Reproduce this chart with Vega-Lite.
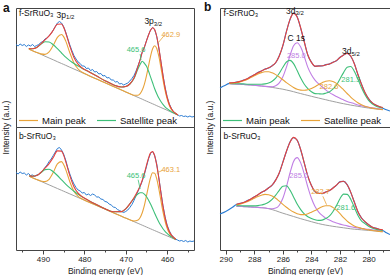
{
"$schema":"https://vega.github.io/schema/vega-lite/v6.json",
"padding":{"left":0,"top":0,"right":0,"bottom":0},
"config":{"font":"Liberation Sans","view":{"stroke":"#444","strokeWidth":1},
"axis":{"labelFontSize":8,"titleFontSize":8.5,"titleFontWeight":"normal","labelColor":"#222","titleColor":"#222","tickColor":"#444","grid":false,"domain":false},
"axisY":{"ticks":false,"labels":false,"titleY":119,"titlePadding":6},
"axisX":{"labelPadding":1,"titlePadding":3}},
"datasets":{
"aTop":[
{"e":493.4,"bg":78.0,"Satellite peak":78.5,"Main peak":78.0,"fit":78.5},
{"e":492.5,"bg":76.3,"Satellite peak":78.3,"Main peak":76.3,"fit":78.3},
{"e":491.5,"bg":74.5,"Satellite peak":79.5,"Main peak":74.5,"fit":79.5},
{"e":490.5,"bg":72.7,"Satellite peak":82.7,"Main peak":73.1,"fit":83.1},
{"e":489.5,"bg":70.8,"Satellite peak":85.3,"Main peak":72.6,"fit":87.1},
{"e":488.5,"bg":69.0,"Satellite peak":85.0,"Main peak":75.1,"fit":91.1},
{"e":487.5,"bg":67.2,"Satellite peak":82.2,"Main peak":81.7,"fit":96.7},
{"e":486.5,"bg":65.3,"Satellite peak":78.3,"Main peak":89.7,"fit":102.7},
{"e":485.5,"bg":63.5,"Satellite peak":74.0,"Main peak":92.5,"fit":103.0},
{"e":485,"bg":62.6,"Satellite peak":71.9,"Main peak":90.4,"fit":99.7},
{"e":484.5,"bg":61.7,"Satellite peak":69.9,"Main peak":86.1,"fit":94.3},
{"e":483.5,"bg":59.8,"Satellite peak":66.4,"Main peak":74.3,"fit":80.9},
{"e":482.5,"bg":58.0,"Satellite peak":63.5,"Main peak":64.1,"fit":69.6},
{"e":481.5,"bg":56.2,"Satellite peak":61.0,"Main peak":58.0,"fit":62.8},
{"e":480.5,"bg":54.3,"Satellite peak":58.6,"Main peak":54.7,"fit":59.0},
{"e":479,"bg":51.6,"Satellite peak":55.4,"Main peak":51.6,"fit":55.4},
{"e":477,"bg":47.9,"Satellite peak":50.9,"Main peak":47.9,"fit":50.9},
{"e":475,"bg":44.3,"Satellite peak":46.3,"Main peak":44.3,"fit":46.3},
{"e":473,"bg":40.6,"Satellite peak":42.3,"Main peak":40.6,"fit":42.3},
{"e":471,"bg":36.9,"Satellite peak":40.0,"Main peak":36.9,"fit":40.0},
{"e":470,"bg":35.1,"Satellite peak":40.5,"Main peak":35.1,"fit":40.5},
{"e":469,"bg":33.3,"Satellite peak":43.0,"Main peak":33.3,"fit":43.0},
{"e":468,"bg":31.4,"Satellite peak":48.5,"Main peak":31.8,"fit":48.9},
{"e":467,"bg":29.6,"Satellite peak":58.6,"Main peak":31.8,"fit":60.8},
{"e":466.5,"bg":28.7,"Satellite peak":62.7,"Main peak":33.4,"fit":67.4},
{"e":466,"bg":27.8,"Satellite peak":65.8,"Main peak":36.9,"fit":74.9},
{"e":465.5,"bg":26.8,"Satellite peak":63.8,"Main peak":42.6,"fit":79.6},
{"e":465,"bg":25.9,"Satellite peak":60.9,"Main peak":50.9,"fit":85.9},
{"e":464.5,"bg":25.0,"Satellite peak":56.0,"Main peak":60.8,"fit":91.8},
{"e":464,"bg":24.1,"Satellite peak":50.1,"Main peak":70.7,"fit":96.7},
{"e":463.5,"bg":23.2,"Satellite peak":44.2,"Main peak":78.2,"fit":99.2},
{"e":463,"bg":22.3,"Satellite peak":38.3,"Main peak":81.2,"fit":97.2},
{"e":462.5,"bg":21.3,"Satellite peak":33.3,"Main peak":78.5,"fit":90.5},
{"e":462,"bg":20.4,"Satellite peak":28.9,"Main peak":70.8,"fit":79.3},
{"e":461.5,"bg":19.5,"Satellite peak":25.5,"Main peak":59.7,"fit":65.7},
{"e":461,"bg":18.6,"Satellite peak":22.6,"Main peak":47.7,"fit":51.7},
{"e":460.5,"bg":17.7,"Satellite peak":20.2,"Main peak":36.9,"fit":39.4},
{"e":460,"bg":16.8,"Satellite peak":18.3,"Main peak":28.3,"fit":29.8},
{"e":459.5,"bg":15.8,"Satellite peak":16.8,"Main peak":22.0,"fit":23.0},
{"e":459,"bg":14.9,"Satellite peak":15.4,"Main peak":17.9,"fit":18.4},
{"e":458.5,"bg":14.0,"Satellite peak":14.2,"Main peak":15.3,"fit":15.5},
{"e":458,"bg":13.1,"Satellite peak":13.2,"Main peak":13.6,"fit":13.7},
{"e":457.4,"bg":12.0,"Satellite peak":12.0,"Main peak":12.1,"fit":12.1}],
"aBot":[
{"e":493.3,"bg":73.7,"Satellite peak":74.2,"Main peak":73.7,"fit":74.2},
{"e":492.5,"bg":72.2,"Satellite peak":73.7,"Main peak":72.2,"fit":73.7},
{"e":491.5,"bg":70.4,"Satellite peak":74.4,"Main peak":70.4,"fit":74.4},
{"e":490.5,"bg":68.7,"Satellite peak":77.2,"Main peak":69.0,"fit":77.5},
{"e":489.5,"bg":66.9,"Satellite peak":80.4,"Main peak":68.4,"fit":81.9},
{"e":488.5,"bg":65.1,"Satellite peak":80.8,"Main peak":70.7,"fit":86.4},
{"e":487.5,"bg":63.3,"Satellite peak":78.3,"Main peak":77.5,"fit":92.5},
{"e":486.5,"bg":61.5,"Satellite peak":74.5,"Main peak":86.1,"fit":99.1},
{"e":485.5,"bg":59.7,"Satellite peak":70.2,"Main peak":88.4,"fit":98.9},
{"e":485,"bg":58.8,"Satellite peak":68.1,"Main peak":85.6,"fit":94.9},
{"e":484.5,"bg":57.9,"Satellite peak":65.9,"Main peak":80.6,"fit":88.6},
{"e":483.5,"bg":56.1,"Satellite peak":62.1,"Main peak":68.3,"fit":74.3},
{"e":482.5,"bg":54.3,"Satellite peak":58.8,"Main peak":58.7,"fit":63.2},
{"e":481.5,"bg":52.5,"Satellite peak":55.7,"Main peak":53.6,"fit":56.8},
{"e":480.5,"bg":50.8,"Satellite peak":53.1,"Main peak":51.0,"fit":53.3},
{"e":479,"bg":48.1,"Satellite peak":49.6,"Main peak":48.1,"fit":49.6},
{"e":477,"bg":44.5,"Satellite peak":45.3,"Main peak":44.5,"fit":45.3},
{"e":475,"bg":40.9,"Satellite peak":41.3,"Main peak":40.9,"fit":41.3},
{"e":473,"bg":37.3,"Satellite peak":38.3,"Main peak":37.3,"fit":38.3},
{"e":471,"bg":33.7,"Satellite peak":38.4,"Main peak":33.7,"fit":38.4},
{"e":470,"bg":31.9,"Satellite peak":41.2,"Main peak":31.9,"fit":41.2},
{"e":469,"bg":30.2,"Satellite peak":46.1,"Main peak":30.3,"fit":46.2},
{"e":468,"bg":28.4,"Satellite peak":51.7,"Main peak":29.0,"fit":52.3},
{"e":467,"bg":26.6,"Satellite peak":56.2,"Main peak":30.1,"fit":59.7},
{"e":466.5,"bg":25.7,"Satellite peak":57.3,"Main peak":32.6,"fit":64.2},
{"e":466,"bg":24.8,"Satellite peak":57.2,"Main peak":37.3,"fit":69.7},
{"e":465.5,"bg":23.9,"Satellite peak":55.9,"Main peak":44.4,"fit":76.4},
{"e":465,"bg":23.0,"Satellite peak":53.5,"Main peak":53.8,"fit":84.3},
{"e":464.5,"bg":22.1,"Satellite peak":50.1,"Main peak":63.7,"fit":91.7},
{"e":464,"bg":21.2,"Satellite peak":46.0,"Main peak":72.3,"fit":97.1},
{"e":463.5,"bg":20.3,"Satellite peak":41.5,"Main peak":77.2,"fit":98.4},
{"e":463,"bg":19.4,"Satellite peak":36.8,"Main peak":76.8,"fit":94.2},
{"e":462.5,"bg":18.5,"Satellite peak":32.3,"Main peak":71.1,"fit":84.9},
{"e":462,"bg":17.6,"Satellite peak":28.1,"Main peak":61.3,"fit":71.8},
{"e":461.5,"bg":16.7,"Satellite peak":24.5,"Main peak":49.6,"fit":57.4},
{"e":461,"bg":15.8,"Satellite peak":21.3,"Main peak":38.3,"fit":43.8},
{"e":460.5,"bg":15.0,"Satellite peak":18.7,"Main peak":29.0,"fit":32.7},
{"e":460,"bg":14.1,"Satellite peak":16.6,"Main peak":21.9,"fit":24.4},
{"e":459.5,"bg":13.2,"Satellite peak":14.8,"Main peak":17.2,"fit":18.8},
{"e":459,"bg":12.3,"Satellite peak":13.3,"Main peak":14.1,"fit":15.1},
{"e":458.5,"bg":11.4,"Satellite peak":12.0,"Main peak":12.2,"fit":12.8},
{"e":457.9,"bg":10.3,"Satellite peak":10.6,"Main peak":10.5,"fit":10.8}],
"aTopRaw":[
{"e":496.5,"v":82.5},{"e":496,"v":81},{"e":495.5,"v":83},{"e":495,"v":81.5},{"e":494.5,"v":82.5},{"e":494,"v":80.5},{"e":493.5,"v":82},{"e":493,"v":81},{"e":492.5,"v":82.5},{"e":492,"v":80.5},{"e":491.5,"v":81.5},{"e":491,"v":82.5},{"e":490.5,"v":84.5},{"e":490,"v":85.5},{"e":489.5,"v":88},{"e":489,"v":89},{"e":488.5,"v":91.5},{"e":488,"v":93.5},{"e":487.5,"v":97},{"e":487,"v":100.5},{"e":486.5,"v":104},{"e":486,"v":105.5},{"e":485.5,"v":104},{"e":485,"v":100.5},{"e":484.5,"v":95},{"e":484,"v":88.5},{"e":483.5,"v":82},{"e":483,"v":76.5},{"e":482.5,"v":71.5},{"e":482,"v":68},{"e":481.5,"v":65},{"e":481,"v":63.5},{"e":480.5,"v":61},{"e":480,"v":61},{"e":479.5,"v":58.5},{"e":479,"v":59},{"e":478.5,"v":56.5},{"e":478,"v":57.5},{"e":477.5,"v":55},{"e":477,"v":55.5},{"e":476.5,"v":53},{"e":476,"v":53.5},{"e":475.5,"v":51},{"e":475,"v":51.5},{"e":474.5,"v":49},{"e":474,"v":49.5},{"e":473.5,"v":47},{"e":473,"v":47},{"e":472.5,"v":45},{"e":472,"v":45.5},{"e":471.5,"v":43},{"e":471,"v":43.5},{"e":470.5,"v":42},{"e":470,"v":43},{"e":469.5,"v":44},{"e":469,"v":46},{"e":468.5,"v":48.5},{"e":468,"v":51.5},{"e":467.5,"v":56},{"e":467,"v":61.5},{"e":466.5,"v":67.5},{"e":466,"v":75},{"e":465.5,"v":79.5},{"e":465,"v":86},{"e":464.5,"v":92},{"e":464,"v":97},{"e":463.5,"v":99.5},{"e":463,"v":97.5},{"e":462.5,"v":90.5},{"e":462,"v":79},{"e":461.5,"v":65.5},{"e":461,"v":52},{"e":460.5,"v":40},{"e":460,"v":30.5},{"e":459.5,"v":23.5},{"e":459,"v":19},{"e":458.5,"v":15.5},{"e":458,"v":14},{"e":457.5,"v":12.5},{"e":457,"v":11},{"e":456.5,"v":11.5},{"e":456,"v":10.5},{"e":455.5,"v":11},{"e":455,"v":10},{"e":454.5,"v":11},{"e":454,"v":10},{"e":453.5,"v":10.5}],
"aBotRaw":[
{"e":496.5,"v":77.5},{"e":496,"v":76},{"e":495.5,"v":78},{"e":495,"v":76.5},{"e":494.5,"v":77},{"e":494,"v":75},{"e":493.5,"v":76.5},{"e":493,"v":74.5},{"e":492.5,"v":75},{"e":492,"v":73.5},{"e":491.5,"v":75},{"e":491,"v":75.5},{"e":490.5,"v":78},{"e":490,"v":79.5},{"e":489.5,"v":82.5},{"e":489,"v":85},{"e":488.5,"v":88.5},{"e":488,"v":91},{"e":487.5,"v":94.5},{"e":487,"v":98},{"e":486.5,"v":101.5},{"e":486,"v":102.5},{"e":485.5,"v":100},{"e":485,"v":96},{"e":484.5,"v":90},{"e":484,"v":82.5},{"e":483.5,"v":76},{"e":483,"v":70.5},{"e":482.5,"v":66},{"e":482,"v":62.5},{"e":481.5,"v":60},{"e":481,"v":59},{"e":480.5,"v":57},{"e":480,"v":57.5},{"e":479.5,"v":55},{"e":479,"v":56},{"e":478.5,"v":54.5},{"e":478,"v":56},{"e":477.5,"v":55},{"e":477,"v":53},{"e":476.5,"v":53},{"e":476,"v":51},{"e":475.5,"v":50.5},{"e":475,"v":48.5},{"e":474.5,"v":48},{"e":474,"v":46},{"e":473.5,"v":45},{"e":473,"v":43},{"e":472.5,"v":42.5},{"e":472,"v":40.5},{"e":471.5,"v":39.5},{"e":471,"v":38.5},{"e":470.5,"v":37.5},{"e":470,"v":38.5},{"e":469.5,"v":40},{"e":469,"v":42.5},{"e":468.5,"v":45.5},{"e":468,"v":49.5},{"e":467.5,"v":54.5},{"e":467,"v":59},{"e":466.5,"v":63.5},{"e":466,"v":69},{"e":465.5,"v":75.5},{"e":465,"v":83},{"e":464.5,"v":91},{"e":464,"v":96.5},{"e":463.5,"v":98.5},{"e":463,"v":94.5},{"e":462.5,"v":86},{"e":462,"v":72.5},{"e":461.5,"v":58},{"e":461,"v":44.5},{"e":460.5,"v":33.5},{"e":460,"v":25},{"e":459.5,"v":19.5},{"e":459,"v":15.5},{"e":458.5,"v":13},{"e":458,"v":11},{"e":457.5,"v":10},{"e":457,"v":9},{"e":456.5,"v":9.5},{"e":456,"v":8.5},{"e":455.5,"v":9.5},{"e":455,"v":8},{"e":454.5,"v":9},{"e":454,"v":8.5},{"e":453.5,"v":9}],
"bTop":[
{"e":289.75,"bg":43.3,"c1s":43.3,"Main peak":43.6,"Satellite peak":43.8,"fit":44.1},
{"e":289.5,"bg":43.1,"c1s":43.1,"Main peak":43.4,"Satellite peak":44.0,"fit":44.3},
{"e":289.25,"bg":42.9,"c1s":42.9,"Main peak":43.3,"Satellite peak":44.4,"fit":44.8},
{"e":289.0,"bg":42.7,"c1s":42.7,"Main peak":43.2,"Satellite peak":45.1,"fit":45.6},
{"e":288.75,"bg":42.5,"c1s":42.5,"Main peak":43.1,"Satellite peak":46.2,"fit":46.8},
{"e":288.5,"bg":42.2,"c1s":42.2,"Main peak":42.8,"Satellite peak":47.6,"fit":48.2},
{"e":288.25,"bg":42.0,"c1s":42.0,"Main peak":42.8,"Satellite peak":49.4,"fit":50.2},
{"e":288.0,"bg":41.7,"c1s":41.7,"Main peak":42.7,"Satellite peak":51.2,"fit":52.2},
{"e":287.75,"bg":41.4,"c1s":41.4,"Main peak":42.7,"Satellite peak":53.0,"fit":54.3},
{"e":287.5,"bg":41.0,"c1s":41.0,"Main peak":42.7,"Satellite peak":54.4,"fit":56.1},
{"e":287.25,"bg":40.6,"c1s":40.6,"Main peak":43.1,"Satellite peak":55.2,"fit":57.7},
{"e":287.0,"bg":40.2,"c1s":40.4,"Main peak":44.0,"Satellite peak":55.2,"fit":59.2},
{"e":286.75,"bg":39.6,"c1s":40.3,"Main peak":45.8,"Satellite peak":54.2,"fit":61.1},
{"e":286.5,"bg":39.0,"c1s":41.2,"Main peak":48.9,"Satellite peak":52.4,"fit":64.5},
{"e":286.25,"bg":38.4,"c1s":44.1,"Main peak":53.7,"Satellite peak":50.0,"fit":71.0},
{"e":286.0,"bg":37.8,"c1s":50.2,"Main peak":59.7,"Satellite peak":47.3,"fit":81.6},
{"e":285.75,"bg":37.0,"c1s":59.9,"Main peak":65.0,"Satellite peak":44.4,"fit":95.3},
{"e":285.5,"bg":36.2,"c1s":71.5,"Main peak":66.6,"Satellite peak":41.9,"fit":107.6},
{"e":285.25,"bg":35.3,"c1s":81.2,"Main peak":63.4,"Satellite peak":39.6,"fit":113.6},
{"e":285.0,"bg":34.3,"c1s":84.3,"Main peak":56.4,"Satellite peak":37.8,"fit":109.9},
{"e":284.75,"bg":33.4,"c1s":79.9,"Main peak":49.0,"Satellite peak":36.9,"fit":99.0},
{"e":284.5,"bg":32.5,"c1s":70.5,"Main peak":42.8,"Satellite peak":36.7,"fit":85.0},
{"e":284.25,"bg":31.6,"c1s":59.6,"Main peak":38.4,"Satellite peak":37.2,"fit":72.0},
{"e":284.0,"bg":30.7,"c1s":52.2,"Main peak":35.3,"Satellite peak":38.5,"fit":64.6},
{"e":283.75,"bg":29.8,"c1s":46.8,"Main peak":33.4,"Satellite peak":40.3,"fit":60.9},
{"e":283.5,"bg":29.0,"c1s":43.3,"Main peak":33.2,"Satellite peak":42.4,"fit":60.9},
{"e":283.25,"bg":28.1,"c1s":40.1,"Main peak":33.0,"Satellite peak":44.3,"fit":61.2},
{"e":283.0,"bg":27.3,"c1s":37.1,"Main peak":33.8,"Satellite peak":45.8,"fit":62.1},
{"e":282.75,"bg":26.4,"c1s":34.6,"Main peak":35.1,"Satellite peak":46.2,"fit":63.1},
{"e":282.5,"bg":25.6,"c1s":32.4,"Main peak":37.8,"Satellite peak":45.5,"fit":64.5},
{"e":282.25,"bg":24.8,"c1s":30.5,"Main peak":41.9,"Satellite peak":43.6,"fit":66.4},
{"e":282.0,"bg":24.0,"c1s":28.7,"Main peak":48.1,"Satellite peak":40.7,"fit":69.5},
{"e":281.75,"bg":23.3,"c1s":27.1,"Main peak":54.4,"Satellite peak":37.2,"fit":72.1},
{"e":281.5,"bg":22.6,"c1s":25.6,"Main peak":59.7,"Satellite peak":33.5,"fit":73.6},
{"e":281.25,"bg":21.9,"c1s":24.4,"Main peak":60.5,"Satellite peak":29.9,"fit":71.0},
{"e":281.0,"bg":21.3,"c1s":23.3,"Main peak":55.7,"Satellite peak":26.9,"fit":63.3},
{"e":280.75,"bg":20.7,"c1s":22.0,"Main peak":47.9,"Satellite peak":24.3,"fit":52.8},
{"e":280.5,"bg":20.1,"c1s":21.2,"Main peak":39.5,"Satellite peak":22.3,"fit":42.8},
{"e":280.25,"bg":19.5,"c1s":20.5,"Main peak":32.2,"Satellite peak":20.8,"fit":34.5},
{"e":280.0,"bg":19.0,"c1s":19.8,"Main peak":26.7,"Satellite peak":19.7,"fit":28.2},
{"e":279.75,"bg":18.5,"c1s":19.2,"Main peak":23.2,"Satellite peak":18.9,"fit":24.3},
{"e":279.5,"bg":18.1,"c1s":18.7,"Main peak":21.1,"Satellite peak":18.3,"fit":21.9},
{"e":279.25,"bg":17.7,"c1s":18.2,"Main peak":19.8,"Satellite peak":17.8,"fit":20.4},
{"e":279.0,"bg":17.4,"c1s":17.9,"Main peak":19.0,"Satellite peak":17.4,"fit":19.5}],
"bBot":[
{"e":289.25,"bg":43.7,"c1s":43.7,"Main peak":44.4,"Satellite peak":45.1,"fit":45.8},
{"e":289.0,"bg":43.6,"c1s":43.6,"Main peak":44.3,"Satellite peak":45.8,"fit":46.5},
{"e":288.75,"bg":43.4,"c1s":43.4,"Main peak":44.1,"Satellite peak":46.9,"fit":47.6},
{"e":288.5,"bg":43.2,"c1s":43.2,"Main peak":44.1,"Satellite peak":48.2,"fit":49.1},
{"e":288.25,"bg":43.0,"c1s":43.0,"Main peak":44.1,"Satellite peak":49.9,"fit":51.0},
{"e":288.0,"bg":42.8,"c1s":42.8,"Main peak":44.1,"Satellite peak":51.7,"fit":53.0},
{"e":287.75,"bg":42.6,"c1s":42.6,"Main peak":44.4,"Satellite peak":53.4,"fit":55.2},
{"e":287.5,"bg":42.3,"c1s":42.3,"Main peak":45.0,"Satellite peak":54.8,"fit":57.5},
{"e":287.25,"bg":42.0,"c1s":42.0,"Main peak":45.9,"Satellite peak":55.6,"fit":59.5},
{"e":287.0,"bg":41.3,"c1s":41.5,"Main peak":47.8,"Satellite peak":55.3,"fit":62.0},
{"e":286.75,"bg":40.4,"c1s":41.2,"Main peak":50.6,"Satellite peak":54.0,"fit":65.0},
{"e":286.5,"bg":39.3,"c1s":41.9,"Main peak":54.8,"Satellite peak":51.8,"fit":69.9},
{"e":286.25,"bg":38.0,"c1s":44.8,"Main peak":59.7,"Satellite peak":48.8,"fit":77.3},
{"e":286.0,"bg":36.8,"c1s":51.7,"Main peak":63.8,"Satellite peak":45.7,"fit":87.6},
{"e":285.75,"bg":35.7,"c1s":63.2,"Main peak":64.2,"Satellite peak":42.8,"fit":98.8},
{"e":285.5,"bg":34.6,"c1s":77.0,"Main peak":59.9,"Satellite peak":40.1,"fit":107.8},
{"e":285.25,"bg":33.5,"c1s":88.6,"Main peak":53.1,"Satellite peak":37.9,"fit":112.6},
{"e":285.0,"bg":32.4,"c1s":92.4,"Main peak":45.9,"Satellite peak":36.2,"fit":109.7},
{"e":284.75,"bg":31.3,"c1s":87.1,"Main peak":40.4,"Satellite peak":35.4,"fit":100.3},
{"e":284.5,"bg":30.3,"c1s":75.9,"Main peak":36.1,"Satellite peak":35.4,"fit":86.8},
{"e":284.25,"bg":29.3,"c1s":62.9,"Main peak":33.3,"Satellite peak":36.3,"fit":73.9},
{"e":284.0,"bg":28.3,"c1s":51.7,"Main peak":31.5,"Satellite peak":37.8,"fit":64.4},
{"e":283.75,"bg":27.3,"c1s":43.5,"Main peak":30.2,"Satellite peak":39.4,"fit":58.5},
{"e":283.5,"bg":26.4,"c1s":38.2,"Main peak":29.6,"Satellite peak":41.5,"fit":56.5},
{"e":283.25,"bg":25.6,"c1s":34.6,"Main peak":29.9,"Satellite peak":43.3,"fit":56.6},
{"e":283.0,"bg":24.9,"c1s":31.9,"Main peak":31.5,"Satellite peak":44.3,"fit":57.9},
{"e":282.75,"bg":24.3,"c1s":29.9,"Main peak":33.8,"Satellite peak":44.3,"fit":59.4},
{"e":282.5,"bg":23.7,"c1s":28.3,"Main peak":38.3,"Satellite peak":42.6,"fit":61.8},
{"e":282.25,"bg":23.2,"c1s":27.0,"Main peak":44.4,"Satellite peak":39.9,"fit":64.9},
{"e":282.0,"bg":22.7,"c1s":25.9,"Main peak":51.3,"Satellite peak":36.3,"fit":68.1},
{"e":281.75,"bg":22.2,"c1s":25.0,"Main peak":55.9,"Satellite peak":32.3,"fit":68.8},
{"e":281.5,"bg":21.7,"c1s":24.1,"Main peak":55.6,"Satellite peak":28.9,"fit":65.2},
{"e":281.25,"bg":21.2,"c1s":23.3,"Main peak":50.8,"Satellite peak":26.2,"fit":57.9},
{"e":281.0,"bg":20.8,"c1s":22.6,"Main peak":42.8,"Satellite peak":24.1,"fit":47.9},
{"e":280.75,"bg":20.5,"c1s":22.0,"Main peak":34.8,"Satellite peak":22.7,"fit":38.5},
{"e":280.5,"bg":20.2,"c1s":21.5,"Main peak":29.1,"Satellite peak":21.8,"fit":32.0},
{"e":280.25,"bg":19.9,"c1s":21.0,"Main peak":26.4,"Satellite peak":20.8,"fit":28.4},
{"e":280.0,"bg":19.6,"c1s":20.6,"Main peak":23.7,"Satellite peak":20.1,"fit":25.2},
{"e":279.75,"bg":19.3,"c1s":20.2,"Main peak":21.9,"Satellite peak":19.5,"fit":23.0},
{"e":279.5,"bg":19.0,"c1s":19.8,"Main peak":20.9,"Satellite peak":19.1,"fit":21.8},
{"e":279.25,"bg":18.6,"c1s":19.3,"Main peak":20.1,"Satellite peak":18.6,"fit":20.8},
{"e":279.0,"bg":18.3,"c1s":18.9,"Main peak":19.5,"Satellite peak":18.3,"fit":20.1}],
"bTopRaw":[
{"e":290.4,"v":39},{"e":290.1,"v":41.2},{"e":289.75,"v":43.6},{"e":289.5,"v":44.2},{"e":289.25,"v":45.0},{"e":289.0,"v":45.5},{"e":288.75,"v":46.9},{"e":288.5,"v":48.0},{"e":288.25,"v":50.4},{"e":288.0,"v":52.0},{"e":287.75,"v":54.5},{"e":287.5,"v":56.0},{"e":287.25,"v":57.9},{"e":287.0,"v":59.0},{"e":286.75,"v":61.3},{"e":286.5,"v":64.3},{"e":286.25,"v":71.3},{"e":286.0,"v":81.2},{"e":285.75,"v":95.6},{"e":285.5,"v":107.4},{"e":285.25,"v":114.0},{"e":285.0,"v":110.2},{"e":284.75,"v":98.7},{"e":284.5,"v":85.3},{"e":284.25,"v":71.7},{"e":284.0,"v":64.9},{"e":283.75,"v":60.6},{"e":283.5,"v":61.2},{"e":283.25,"v":61.0},{"e":283.0,"v":62.4},{"e":282.75,"v":62.9},{"e":282.5,"v":64.8},{"e":282.25,"v":66.2},{"e":282.0,"v":69.8},{"e":281.75,"v":71.9},{"e":281.5,"v":73.9},{"e":281.25,"v":70.8},{"e":281.0,"v":63.6},{"e":280.75,"v":52.5},{"e":280.5,"v":43.1},{"e":280.25,"v":34.2},{"e":280.0,"v":28.4},{"e":279.75,"v":24.1},{"e":279.5,"v":22.0},{"e":279.25,"v":20.2},{"e":279.0,"v":18.8},{"e":278.75,"v":17.2},{"e":278.5,"v":16.0}],
"bBotRaw":[
{"e":290.4,"v":36},{"e":290.0,"v":38.5},{"e":289.5,"v":43.0},{"e":289.25,"v":45.6},{"e":289.0,"v":46.7},{"e":288.75,"v":47.4},{"e":288.5,"v":49.3},{"e":288.25,"v":50.8},{"e":288.0,"v":53.2},{"e":287.75,"v":55.0},{"e":287.5,"v":57.7},{"e":287.25,"v":59.3},{"e":287.0,"v":62.2},{"e":286.75,"v":64.8},{"e":286.5,"v":70.1},{"e":286.25,"v":77.0},{"e":286.0,"v":87.9},{"e":285.75,"v":98.5},{"e":285.5,"v":108.1},{"e":285.25,"v":112.3},{"e":285.0,"v":109.9},{"e":284.75,"v":100.0},{"e":284.5,"v":87.1},{"e":284.25,"v":73.6},{"e":284.0,"v":64.6},{"e":283.75,"v":58.2},{"e":283.5,"v":56.7},{"e":283.25,"v":56.3},{"e":283.0,"v":58.1},{"e":282.75,"v":59.2},{"e":282.5,"v":62.0},{"e":282.25,"v":64.6},{"e":282.0,"v":68.4},{"e":281.75,"v":68.6},{"e":281.5,"v":65.4},{"e":281.25,"v":57.6},{"e":281.0,"v":48.2},{"e":280.75,"v":38.2},{"e":280.5,"v":32.2},{"e":280.25,"v":28.1},{"e":280.0,"v":25.4},{"e":279.75,"v":22.8},{"e":279.5,"v":21.9},{"e":279.25,"v":20.6},{"e":279.0,"v":19.6},{"e":278.75,"v":17.2},{"e":278.5,"v":15.5}]
},
"spacing":6,
"resolve":{"scale":{"x":"independent","y":"independent","color":"independent"},"legend":{"color":"independent"}},
"hconcat":[
{"vconcat":[
{"width":178,"height":119,
"title":{"text":"a","anchor":"start","frame":"group","offset":-7,"dx":-13,"fontSize":12,"fontWeight":"bold","color":"#111"},
"encoding":{"x":{"field":"e","type":"quantitative","scale":{"domain":[453.5,496.5],"reverse":true,"nice":false,"zero":false},"axis":null}},
"layer":[
{"data":{"name":"aTopRaw"},"mark":{"type":"line","color":"#2B7CD3","strokeWidth":1},"encoding":{"y":{"field":"v","type":"quantitative","scale":{"domain":[0,119],"nice":false,"zero":false},"title":"Intensity (a.u.)"}}},
{"data":{"name":"aTop"},"mark":{"type":"line","color":"#A0A0A0","strokeWidth":1},"encoding":{"y":{"field":"bg","type":"quantitative","scale":{"domain":[0,119],"nice":false,"zero":false},"title":"Intensity (a.u.)"}}},
{"data":{"name":"aTop"},"transform":[{"fold":["Main peak","Satellite peak"],"as":["comp","val"]}],"mark":{"type":"line","strokeWidth":1.1,"interpolate":"monotone"},"encoding":{"y":{"field":"val","type":"quantitative","scale":{"domain":[0,119],"nice":false,"zero":false},"title":"Intensity (a.u.)"},"color":{"field":"comp","type":"nominal","scale":{"domain":["Main peak","Satellite peak"],"range":["#E8A33A","#3DBF78"]},"legend":{"title":null,"orient":"bottom-left","direction":"horizontal","symbolType":"stroke","symbolSize":360,"symbolStrokeWidth":1.2,"labelFontSize":9.5,"labelOffset":3,"columnPadding":8,"offset":2,"padding":0,"labelColor":"#111"}}}},
{"data":{"name":"aTop"},"mark":{"type":"line","color":"#E8413C","strokeWidth":1.1,"interpolate":"monotone"},"encoding":{"y":{"field":"fit","type":"quantitative","scale":{"domain":[0,119],"nice":false,"zero":false},"title":"Intensity (a.u.)"}}},
{"data":{"values":[{"e":466.5,"e2":466.3,"v":73,"v2":67}]},"mark":{"type":"rule","color":"#3DBF78","strokeWidth":0.8},"encoding":{"x2":{"field":"e2"},"y":{"field":"v","type":"quantitative","scale":{"domain":[0,119],"nice":false,"zero":false},"title":"Intensity (a.u.)"},"y2":{"field":"v2"}}},
{"data":{"values":[{"e":460.8,"e2":462.2,"v":91,"v2":84}]},"mark":{"type":"rule","color":"#E8A33A","strokeWidth":0.8},"encoding":{"x2":{"field":"e2"},"y":{"field":"v","type":"quantitative","scale":{"domain":[0,119],"nice":false,"zero":false},"title":"Intensity (a.u.)"},"y2":{"field":"v2"}}},
{"data":{"values":[{"e":495.8,"v":114,"t":"f-SrRuO₃"}]},"mark":{"type":"text","align":"left","baseline":"middle","fontSize":8.5,"color":"#111"},"encoding":{"y":{"field":"v","type":"quantitative","scale":{"domain":[0,119],"nice":false,"zero":false},"title":"Intensity (a.u.)"},"text":{"field":"t"}}},
{"data":{"values":[{"e":484.4,"v":112.3,"t":"3p"},{"e":463.2,"v":105.7,"t":"3p"}]},"mark":{"type":"text","align":"right","baseline":"middle","fontSize":8.5,"color":"#111"},"encoding":{"y":{"field":"v","type":"quantitative","scale":{"domain":[0,119],"nice":false,"zero":false},"title":"Intensity (a.u.)"},"text":{"field":"t"}}},
{"data":{"values":[{"e":484.4,"v":109.8,"t":"1/2"},{"e":463.2,"v":103.2,"t":"3/2"}]},"mark":{"type":"text","align":"left","baseline":"middle","fontSize":6,"color":"#111"},"encoding":{"y":{"field":"v","type":"quantitative","scale":{"domain":[0,119],"nice":false,"zero":false},"title":"Intensity (a.u.)"},"text":{"field":"t"}}},
{"data":{"values":[{"e":467.5,"v":76.7,"t":"465.6"}]},"mark":{"type":"text","align":"center","baseline":"middle","fontSize":7.5,"color":"#3DBF78"},"encoding":{"y":{"field":"v","type":"quantitative","scale":{"domain":[0,119],"nice":false,"zero":false},"title":"Intensity (a.u.)"},"text":{"field":"t"}}},
{"data":{"values":[{"e":459.1,"v":92.3,"t":"462.9"}]},"mark":{"type":"text","align":"center","baseline":"middle","fontSize":7.5,"color":"#E8A33A"},"encoding":{"y":{"field":"v","type":"quantitative","scale":{"domain":[0,119],"nice":false,"zero":false},"title":"Intensity (a.u.)"},"text":{"field":"t"}}}
]},
{"width":178,"height":123,
"encoding":{"x":{"field":"e","type":"quantitative","scale":{"domain":[453.5,496.5],"reverse":true,"nice":false,"zero":false},"axis":{"title":"Binding energy (eV)","values":[495,490,485,480,475,470,465,460,455],"labelExpr":"datum.value % 10 === 0 ? datum.label : ''","tickSize":{"condition":{"test":"datum.value % 10 === 0","value":4},"value":2}}}},
"layer":[
{"data":{"name":"aBotRaw"},"mark":{"type":"line","color":"#2B7CD3","strokeWidth":1},"encoding":{"y":{"field":"v","type":"quantitative","scale":{"domain":[0,123],"nice":false,"zero":false},"axis":null}}},
{"data":{"name":"aBot"},"mark":{"type":"line","color":"#A0A0A0","strokeWidth":1},"encoding":{"y":{"field":"bg","type":"quantitative","scale":{"domain":[0,123],"nice":false,"zero":false},"axis":null}}},
{"data":{"name":"aBot"},"transform":[{"fold":["Main peak","Satellite peak"],"as":["comp","val"]}],"mark":{"type":"line","strokeWidth":1.1,"interpolate":"monotone"},"encoding":{"y":{"field":"val","type":"quantitative","scale":{"domain":[0,123],"nice":false,"zero":false},"axis":null},"color":{"field":"comp","type":"nominal","scale":{"domain":["Main peak","Satellite peak"],"range":["#E8A33A","#3DBF78"]},"legend":null}}},
{"data":{"name":"aBot"},"mark":{"type":"line","color":"#E8413C","strokeWidth":1.1,"interpolate":"monotone"},"encoding":{"y":{"field":"fit","type":"quantitative","scale":{"domain":[0,123],"nice":false,"zero":false},"axis":null}}},
{"data":{"values":[{"e":467.0,"e2":466.5,"v":70.3,"v2":61}]},"mark":{"type":"rule","color":"#3DBF78","strokeWidth":0.8},"encoding":{"x2":{"field":"e2"},"y":{"field":"v","type":"quantitative","scale":{"domain":[0,123],"nice":false,"zero":false},"axis":null},"y2":{"field":"v2"}}},
{"data":{"values":[{"e":461.1,"e2":462.5,"v":79.7,"v2":77}]},"mark":{"type":"rule","color":"#E8A33A","strokeWidth":0.8},"encoding":{"x2":{"field":"e2"},"y":{"field":"v","type":"quantitative","scale":{"domain":[0,123],"nice":false,"zero":false},"axis":null},"y2":{"field":"v2"}}},
{"data":{"values":[{"e":495.8,"v":114,"t":"b-SrRuO₃"}]},"mark":{"type":"text","align":"left","baseline":"middle","fontSize":8.5,"color":"#111"},"encoding":{"y":{"field":"v","type":"quantitative","scale":{"domain":[0,123],"nice":false,"zero":false},"axis":null},"text":{"field":"t"}}},
{"data":{"values":[{"e":467.5,"v":73.7,"t":"465.6"}]},"mark":{"type":"text","align":"center","baseline":"middle","fontSize":7.5,"color":"#3DBF78"},"encoding":{"y":{"field":"v","type":"quantitative","scale":{"domain":[0,123],"nice":false,"zero":false},"axis":null},"text":{"field":"t"}}},
{"data":{"values":[{"e":459.1,"v":79.7,"t":"463.1"}]},"mark":{"type":"text","align":"center","baseline":"middle","fontSize":7.5,"color":"#E8A33A"},"encoding":{"y":{"field":"v","type":"quantitative","scale":{"domain":[0,123],"nice":false,"zero":false},"axis":null},"text":{"field":"t"}}}
]}
],"spacing":0,"bounds":"flush","resolve":{"scale":{"x":"independent","y":"independent","color":"independent"},"legend":{"color":"independent"}}},
{"vconcat":[
{"width":170,"height":119,
"title":{"text":"b","anchor":"start","frame":"group","offset":-7,"dx":-16,"fontSize":12,"fontWeight":"bold","color":"#111"},
"encoding":{"x":{"field":"e","type":"quantitative","scale":{"domain":[278.5,290.4],"reverse":true,"nice":false,"zero":false},"axis":null}},
"layer":[
{"data":{"name":"bTopRaw"},"mark":{"type":"line","color":"#2B7CD3","strokeWidth":1.1,"interpolate":"monotone"},"encoding":{"y":{"field":"v","type":"quantitative","scale":{"domain":[0,119],"nice":false,"zero":false},"title":"Intensity (a.u.)"}}},
{"data":{"name":"bTop"},"mark":{"type":"line","color":"#A0A0A0","strokeWidth":1,"interpolate":"monotone"},"encoding":{"y":{"field":"bg","type":"quantitative","scale":{"domain":[0,119],"nice":false,"zero":false},"title":"Intensity (a.u.)"}}},
{"data":{"name":"bTop"},"mark":{"type":"line","color":"#C07FE4","strokeWidth":1.1,"interpolate":"monotone"},"encoding":{"y":{"field":"c1s","type":"quantitative","scale":{"domain":[0,119],"nice":false,"zero":false},"title":"Intensity (a.u.)"}}},
{"data":{"name":"bTop"},"transform":[{"fold":["Main peak","Satellite peak"],"as":["comp","val"]}],"mark":{"type":"line","strokeWidth":1.1,"interpolate":"monotone"},"encoding":{"y":{"field":"val","type":"quantitative","scale":{"domain":[0,119],"nice":false,"zero":false},"title":"Intensity (a.u.)"},"color":{"field":"comp","type":"nominal","scale":{"domain":["Main peak","Satellite peak"],"range":["#3DBF78","#E8A33A"]},"legend":{"title":null,"orient":"bottom-left","direction":"horizontal","symbolType":"stroke","symbolSize":360,"symbolStrokeWidth":1.2,"labelFontSize":9.5,"labelOffset":3,"columnPadding":8,"offset":2,"padding":0,"labelColor":"#111"}}}},
{"data":{"name":"bTop"},"mark":{"type":"line","color":"#E8413C","strokeWidth":1.1,"interpolate":"monotone"},"encoding":{"y":{"field":"fit","type":"quantitative","scale":{"domain":[0,119],"nice":false,"zero":false},"title":"Intensity (a.u.)"}}},
{"data":{"values":[{"e":290.15,"v":114,"t":"f-SrRuO₃"}]},"mark":{"type":"text","align":"left","baseline":"middle","fontSize":8.5,"color":"#111"},"encoding":{"y":{"field":"v","type":"quantitative","scale":{"domain":[0,119],"nice":false,"zero":false},"title":"Intensity (a.u.)"},"text":{"field":"t"}}},
{"data":{"values":[{"e":285.06,"v":89,"t":"C 1s"}]},"mark":{"type":"text","align":"center","baseline":"middle","fontSize":8.5,"color":"#111"},"encoding":{"y":{"field":"v","type":"quantitative","scale":{"domain":[0,119],"nice":false,"zero":false},"title":"Intensity (a.u.)"},"text":{"field":"t"}}},
{"data":{"values":[{"e":285.12,"v":116.5,"t":"3d"},{"e":281.2,"v":75.7,"t":"3d"}]},"mark":{"type":"text","align":"right","baseline":"middle","fontSize":8.5,"color":"#111"},"encoding":{"y":{"field":"v","type":"quantitative","scale":{"domain":[0,119],"nice":false,"zero":false},"title":"Intensity (a.u.)"},"text":{"field":"t"}}},
{"data":{"values":[{"e":285.12,"v":114,"t":"3/2"},{"e":281.2,"v":73.2,"t":"5/2"}]},"mark":{"type":"text","align":"left","baseline":"middle","fontSize":6,"color":"#111"},"encoding":{"y":{"field":"v","type":"quantitative","scale":{"domain":[0,119],"nice":false,"zero":false},"title":"Intensity (a.u.)"},"text":{"field":"t"}}},
{"data":{"values":[{"e":285.06,"v":70.7,"t":"285.0"}]},"mark":{"type":"text","align":"center","baseline":"middle","fontSize":7.5,"color":"#C07FE4"},"encoding":{"y":{"field":"v","type":"quantitative","scale":{"domain":[0,119],"nice":false,"zero":false},"title":"Intensity (a.u.)"},"text":{"field":"t"}}},
{"data":{"values":[{"e":282.77,"v":40,"t":"282.6"}]},"mark":{"type":"text","align":"center","baseline":"middle","fontSize":7.5,"color":"#E8A33A"},"encoding":{"y":{"field":"v","type":"quantitative","scale":{"domain":[0,119],"nice":false,"zero":false},"title":"Intensity (a.u.)"},"text":{"field":"t"}}},
{"data":{"values":[{"e":281.25,"v":46.7,"t":"281.3"}]},"mark":{"type":"text","align":"center","baseline":"middle","fontSize":7.5,"color":"#3DBF78"},"encoding":{"y":{"field":"v","type":"quantitative","scale":{"domain":[0,119],"nice":false,"zero":false},"title":"Intensity (a.u.)"},"text":{"field":"t"}}}
]},
{"width":170,"height":123,
"encoding":{"x":{"field":"e","type":"quantitative","scale":{"domain":[278.5,290.4],"reverse":true,"nice":false,"zero":false},"axis":{"title":"Binding energy (eV)","values":[290,289,288,287,286,285,284,283,282,281,280,279],"labelExpr":"datum.value % 2 === 0 ? datum.label : ''","tickSize":{"condition":{"test":"datum.value % 2 === 0","value":4},"value":2}}}},
"layer":[
{"data":{"name":"bBotRaw"},"mark":{"type":"line","color":"#2B7CD3","strokeWidth":1.1,"interpolate":"monotone"},"encoding":{"y":{"field":"v","type":"quantitative","scale":{"domain":[0,123],"nice":false,"zero":false},"axis":null}}},
{"data":{"name":"bBot"},"mark":{"type":"line","color":"#A0A0A0","strokeWidth":1,"interpolate":"monotone"},"encoding":{"y":{"field":"bg","type":"quantitative","scale":{"domain":[0,123],"nice":false,"zero":false},"axis":null}}},
{"data":{"name":"bBot"},"mark":{"type":"line","color":"#C07FE4","strokeWidth":1.1,"interpolate":"monotone"},"encoding":{"y":{"field":"c1s","type":"quantitative","scale":{"domain":[0,123],"nice":false,"zero":false},"axis":null}}},
{"data":{"name":"bBot"},"transform":[{"fold":["Main peak","Satellite peak"],"as":["comp","val"]}],"mark":{"type":"line","strokeWidth":1.1,"interpolate":"monotone"},"encoding":{"y":{"field":"val","type":"quantitative","scale":{"domain":[0,123],"nice":false,"zero":false},"axis":null},"color":{"field":"comp","type":"nominal","scale":{"domain":["Main peak","Satellite peak"],"range":["#3DBF78","#E8A33A"]},"legend":null}}},
{"data":{"name":"bBot"},"mark":{"type":"line","color":"#E8413C","strokeWidth":1.1,"interpolate":"monotone"},"encoding":{"y":{"field":"fit","type":"quantitative","scale":{"domain":[0,123],"nice":false,"zero":false},"axis":null}}},
{"data":{"values":[{"e":283.2,"e2":282.94,"v":53.7,"v2":45.3}]},"mark":{"type":"rule","color":"#E8A33A","strokeWidth":0.8},"encoding":{"x2":{"field":"e2"},"y":{"field":"v","type":"quantitative","scale":{"domain":[0,123],"nice":false,"zero":false},"axis":null},"y2":{"field":"v2"}}},
{"data":{"values":[{"e":290.15,"v":113.7,"t":"b-SrRuO₃"}]},"mark":{"type":"text","align":"left","baseline":"middle","fontSize":8.5,"color":"#111"},"encoding":{"y":{"field":"v","type":"quantitative","scale":{"domain":[0,123],"nice":false,"zero":false},"axis":null},"text":{"field":"t"}}},
{"data":{"values":[{"e":284.89,"v":73.7,"t":"285.0"}]},"mark":{"type":"text","align":"center","baseline":"middle","fontSize":7.5,"color":"#C07FE4"},"encoding":{"y":{"field":"v","type":"quantitative","scale":{"domain":[0,123],"nice":false,"zero":false},"axis":null},"text":{"field":"t"}}},
{"data":{"values":[{"e":283.36,"v":57.7,"t":"282.7"}]},"mark":{"type":"text","align":"center","baseline":"middle","fontSize":7.5,"color":"#E8A33A"},"encoding":{"y":{"field":"v","type":"quantitative","scale":{"domain":[0,123],"nice":false,"zero":false},"axis":null},"text":{"field":"t"}}},
{"data":{"values":[{"e":281.6,"v":42,"t":"281.6"}]},"mark":{"type":"text","align":"center","baseline":"middle","fontSize":7.5,"color":"#3DBF78"},"encoding":{"y":{"field":"v","type":"quantitative","scale":{"domain":[0,123],"nice":false,"zero":false},"axis":null},"text":{"field":"t"}}}
]}
],"spacing":0,"bounds":"flush","resolve":{"scale":{"x":"independent","y":"independent","color":"independent"},"legend":{"color":"independent"}}}
]
}
